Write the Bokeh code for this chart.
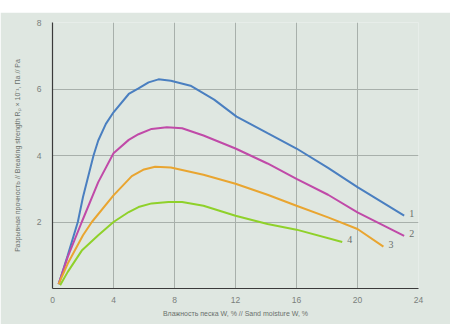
from bokeh.plotting import figure
from bokeh.models import FixedTicker, Range1d, Div
from bokeh.layouts import column
from bokeh.core.properties import value
from bokeh.embed import file_html
from bokeh.resources import INLINE

# Data
x1 = [0.4, 1, 1.66, 2, 2.69, 3, 3.5, 4, 5, 5.64, 6.3, 6.95, 7.76, 9.05, 10.6, 12.07, 14.1, 16, 18.07, 20, 23.06]
y1 = [0.13, 1.0, 2.0, 2.75, 4.0, 4.45, 4.95, 5.3, 5.85, 6.02, 6.2, 6.29, 6.25, 6.1, 5.68, 5.17, 4.67, 4.21, 3.63, 3.05, 2.19]
x2 = [0.4, 1, 1.92, 3, 4, 5, 5.64, 6.5, 7.5, 8.5, 9.9, 12, 14.1, 16, 18.07, 20, 23.06]
y2 = [0.13, 0.95, 2.0, 3.2, 4.07, 4.47, 4.64, 4.8, 4.85, 4.82, 4.6, 4.21, 3.76, 3.3, 2.82, 2.29, 1.58]
x3 = [0.4, 1, 2, 2.58, 4, 5.2, 6, 6.73, 7.76, 9.9, 12, 14.1, 16, 18.07, 20, 21.7]
y3 = [0.13, 0.75, 1.6, 2.0, 2.8, 3.38, 3.58, 3.66, 3.64, 3.42, 3.15, 2.82, 2.49, 2.14, 1.79, 1.26]
x4 = [0.5, 1, 1.92, 3, 4, 5, 5.64, 6.5, 7.6, 8.5, 9.9, 12, 14.1, 16, 19.0]
y4 = [0.1, 0.5, 1.14, 1.6, 2.0, 2.3, 2.45, 2.56, 2.6, 2.6, 2.49, 2.19, 1.94, 1.77, 1.4]
series_names = ["1", "2", "3", "4"]
colors = ["#4a7fc0", "#c04aa8", "#e9a530", "#8fd12a"]

x_ticks = [0, 4, 8, 12, 16, 20, 24]
y_ticks = [2, 4, 6, 8]
x_grid = [4, 8, 12, 16, 20]
y_grid = [2, 4, 6]

bg = "#dfe7e1"
p = figure(width=450, height=312, output_backend="svg", toolbar_location=None,
           x_range=Range1d(0, 24), y_range=Range1d(0, 8),
           min_border_left=52, min_border_right=32, min_border_top=10, min_border_bottom=36)
p.background_fill_color = bg
p.border_fill_color = bg
p.outline_line_color = None

p.xgrid.ticker = FixedTicker(ticks=x_grid)
p.ygrid.ticker = FixedTicker(ticks=y_grid)
for g in (p.xgrid, p.ygrid):
    g.grid_line_color = "#a8b0ab"
    g.grid_line_width = 1

p.xaxis.ticker = FixedTicker(ticks=x_ticks)
p.yaxis.ticker = FixedTicker(ticks=y_ticks)
font = "Liberation Sans Narrow, Liberation Sans"
for ax in (p.xaxis, p.yaxis):
    ax.axis_line_color = "#3a3a3a"
    ax.axis_line_width = 1.2
    ax.major_tick_line_color = None
    ax.minor_tick_line_color = None
    ax.major_label_text_font = font
    ax.major_label_text_font_size = "8.5px"
    ax.major_label_text_color = "#7a7f7c"
    ax.axis_label_text_font = font
    ax.axis_label_text_font_size = "7px"
    ax.axis_label_text_color = "#6a706c"
    ax.axis_label_text_font_style = "normal"
p.xaxis.major_label_standoff = 2
p.yaxis.major_label_standoff = 5
p.xaxis.axis_label = "Влажность песка W, % // Sand moisture W, %"
p.xaxis.axis_label_standoff = 4
p.yaxis.axis_label = "Разрывная прочность // Breaking strength Rₚ × 10⁻¹, Па // Pa"
p.yaxis.axis_label_standoff = 13

for xs, ys, c, n in zip([x1, x2, x3, x4], [y1, y2, y3, y4], colors, series_names):
    p.line(xs, ys, line_color=c, line_width=2)
    p.text([xs[-1]], [ys[-1]], text=[n], x_offset=5, y_offset=-2,
           text_font=value("Liberation Serif"), text_font_size="10px",
           text_color="#6a6f6c", text_baseline="middle", text_align="left")

top = Div(text="", width=450, height=12, margin=0, styles={"background-color": "white"})
layout = column(top, p, spacing=0, margin=0)

open("out.html", "w").write(file_html(layout, INLINE))
